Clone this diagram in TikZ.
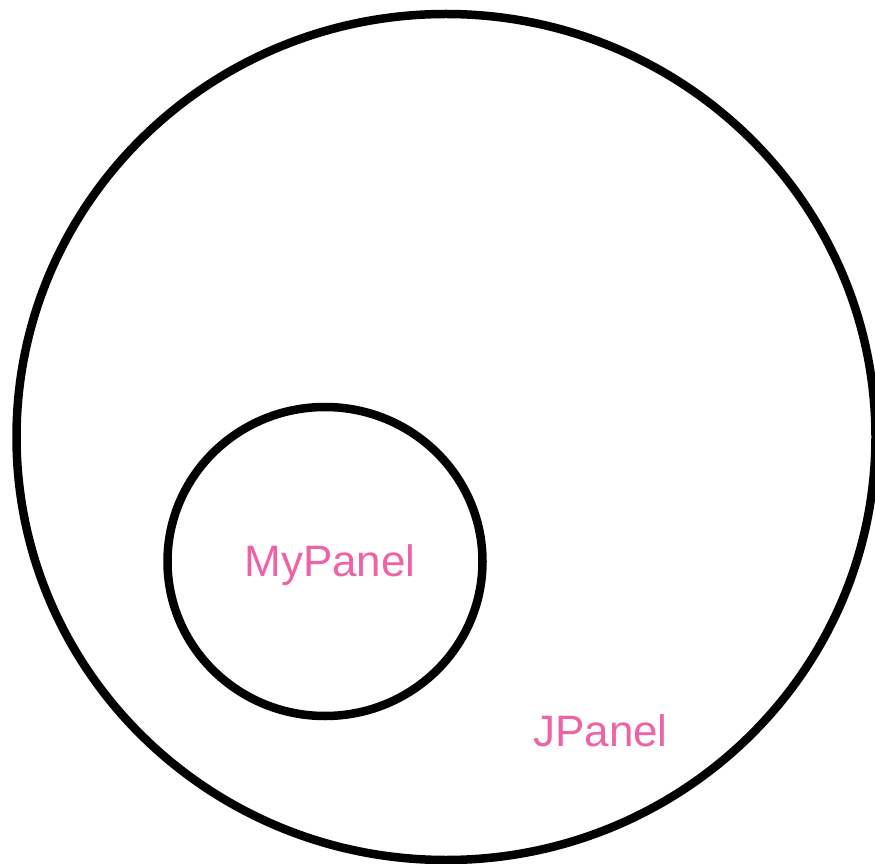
\documentclass[tikz,border=0pt]{standalone}
\usepackage{fontspec}
\setmainfont{Liberation Sans}
\usetikzlibrary{shapes.geometric}
\definecolor{labelpink}{RGB}{238,98,166}
\tikzset{
  ring/.style={ellipse, draw=black, line width=8.5pt, inner sep=0pt, fill=none},
  lbl/.style={text=labelpink, font=\fontsize{44}{44}\selectfont, anchor=base, inner sep=0pt}
}
\begin{document}
\begin{tikzpicture}[x=1pt,y=1pt]
\useasboundingbox (0,0) rectangle (875,863);
\node[ring, minimum width=859pt, minimum height=846pt] (jpanel) at (446,426) {};
\node[ring, minimum width=315pt, minimum height=309pt] (mypanel) at (325,301.5) {};
\node[lbl] (mylabel) at (330,287) {MyPanel};
\node[lbl] (jlabel) at (600.5,117) {JPanel};
\end{tikzpicture}
\end{document}
